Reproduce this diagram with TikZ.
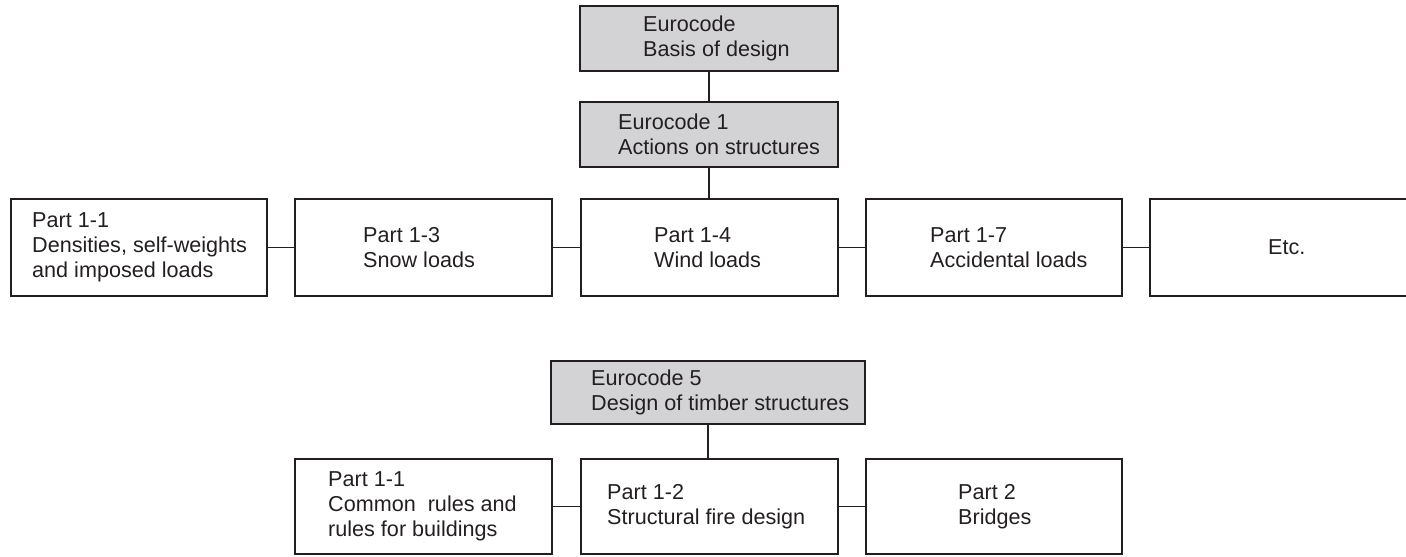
\documentclass[tikz,border=0pt]{standalone}
\usepackage{fontspec}
\setmainfont{Liberation Sans}
\definecolor{ink}{HTML}{231F20}
\definecolor{shade}{RGB}{211,211,213}
\begin{document}
\begin{tikzpicture}[x=1pt,y=-1pt,
  box/.style={draw=ink, line width=1.3pt, rectangle, inner sep=0pt, outer sep=0pt},
  greybox/.style={box, fill=shade},
  txt/.style={anchor=west, align=left, inner sep=0pt, text=ink,
              font=\fontsize{21.6}{25}\selectfont},
  link/.style={draw=ink, line width=1.3pt}]
\useasboundingbox (0,0) rectangle (1406,557);

% --- Eurocode hierarchy: basis and Eurocode 1
\node[greybox, minimum width=258pt, minimum height=65pt] (basis) at (709,38.5) {};
\node[txt] (basis-t) at ([xshift=63pt]basis.west) {Eurocode\\Basis of design};

\node[greybox, minimum width=258pt, minimum height=65pt] (ec1) at (709,134.5) {};
\node[txt] (ec1-t) at ([xshift=38pt]ec1.west) {Eurocode 1\\Actions on structures};

% --- Parts of Eurocode 1
\node[box, minimum width=256pt, minimum height=97pt] (p11) at (139,247.5) {};
\node[txt] (p11-t) at ([xshift=21pt]p11.west) {Part 1-1\\Densities, self-weights\\and imposed loads};

\node[box, minimum width=257pt, minimum height=97pt] (p13) at (423.5,247.5) {};
\node[txt] (p13-t) at ([xshift=68pt]p13.west) {Part 1-3\\Snow loads};

\node[box, minimum width=257pt, minimum height=97pt] (p14) at (709.5,247.5) {};
\node[txt] (p14-t) at ([xshift=73pt]p14.west) {Part 1-4\\Wind loads};

\node[box, minimum width=256pt, minimum height=97pt] (p17) at (994,247.5) {};
\node[txt] (p17-t) at ([xshift=64pt]p17.west) {Part 1-7\\Accidental loads};

\node[box, minimum width=258pt, minimum height=97pt] (etc) at (1279,247.5) {};
\node[txt] (etc-t) at ([xshift=118pt]etc.west) {Etc.};

% --- Eurocode 5 and its parts
\node[greybox, minimum width=314pt, minimum height=63pt] (ec5) at (708,392.5) {};
\node[txt] (ec5-t) at ([xshift=40pt]ec5.west) {Eurocode 5\\Design of timber structures};

\node[box, minimum width=257pt, minimum height=95pt] (q11) at (423.5,506.5) {};
\node[txt] (q11-t) at ([xshift=33pt]q11.west) {Part 1-1\\Common\ \ rules and\\rules for buildings};

\node[box, minimum width=257pt, minimum height=95pt] (q12) at (709.5,506.5) {};
\node[txt] (q12-t) at ([xshift=26pt]q12.west) {Part 1-2\\Structural fire design};

\node[box, minimum width=256pt, minimum height=95pt] (q2) at (994,506.5) {};
\node[txt] (q2-t) at ([xshift=92pt]q2.west) {Part 2\\Bridges};

% --- connectors
\draw[link] (basis.south) -- (ec1.north);
\draw[link] (ec1.south) -- (ec1.south |- p14.north);
\draw[link] (p11.east) -- (p13.west);
\draw[link] (p13.east) -- (p14.west);
\draw[link] (p14.east) -- (p17.west);
\draw[link] (p17.east) -- (etc.west);

\draw[link] (ec5.south) -- (ec5.south |- q12.north);
\draw[link] (q11.east) -- (q12.west);
\draw[link] (q12.east) -- (q2.west);
\end{tikzpicture}
\end{document}
